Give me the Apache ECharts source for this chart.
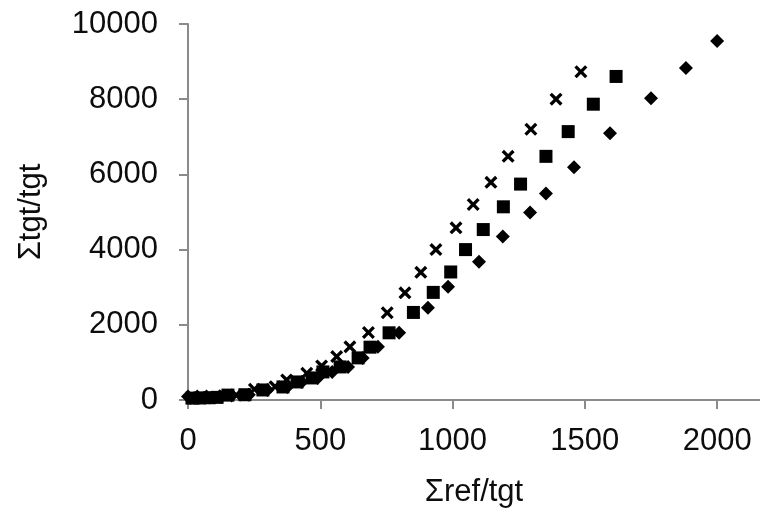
<!DOCTYPE html>
<html>
<head>
<meta charset="utf-8">
<script src="https://cdn.jsdelivr.net/npm/echarts@6/dist/echarts.min.js"></script>
<style>
  html, body { margin: 0; padding: 0; background: #fff; }
  #chart { width: 760px; height: 512px; }
</style>
</head>
<body>
<div id="chart"></div>
<script>
// Cumulative ratios for three runs
const crossX = [25, 65, 110, 182, 251, 329, 373, 449, 505, 562, 612, 682, 753, 820, 880, 937, 1013, 1078, 1145, 1210, 1296, 1391, 1485];
const crossY = [40, 55, 75, 130, 285, 355, 533, 712, 907, 1155, 1413, 1795, 2320, 2850, 3395, 4000, 4580, 5200, 5790, 6480, 7200, 8000, 8730];

const squareX = [15, 45, 80, 110, 151, 215, 283, 359, 412, 469, 510, 575, 643, 688, 760, 852, 927, 993, 1049, 1116, 1192, 1257, 1353, 1437, 1532, 1618];
const squareY = [50, 55, 60, 70, 130, 140, 267, 347, 480, 587, 747, 880, 1120, 1405, 1787, 2329, 2862, 3405, 4000, 4533, 5138, 5742, 6480, 7138, 7867, 8605];

const diamondX = [0, 35, 70, 120, 165, 230, 300, 375, 430, 490, 545, 605, 660, 718, 798, 907, 983, 1100, 1190, 1293, 1353, 1459, 1595, 1750, 1882, 2000];
const diamondY = [90, 90, 95, 100, 120, 140, 267, 347, 480, 587, 747, 880, 1120, 1413, 1787, 2453, 3013, 3680, 4347, 4987, 5493, 6187, 7093, 8027, 8827, 9550];

const xTicks = [0, 500, 1000, 1500, 2000];

const pairs = (xs, ys) => xs.map((x, i) => [x, ys[i]]);

// filled "x" outline so it renders like a stroked cross
const crossPath = 'path://M0,1.8 L1.8,0 L5,3.2 L8.2,0 L10,1.8 L6.8,5 L10,8.2 L8.2,10 L5,6.8 L1.8,10 L0,8.2 L3.2,5 Z';

const FONT = '"Liberation Sans", Arial, sans-serif';
const AXIS_COLOR = '#8a8a8a';
const TEXT_COLOR = '#0d0d0d';
const plain = v => String(v);

const chart = echarts.init(document.getElementById('chart'), null, { renderer: 'canvas' });

chart.setOption({
  animation: false,
  backgroundColor: '#fff',
  grid: { left: 188, right: 0, top: 24, bottom: 112, containLabel: false, outerBoundsMode: 'none' },
  xAxis: {
    type: 'value',
    min: 0,
    max: 2162,
    interval: 500,
    name: 'Σref/tgt',
    nameLocation: 'middle',
    nameGap: 77,
    nameTextStyle: { fontFamily: FONT, fontSize: 31, color: TEXT_COLOR },
    splitLine: { show: false },
    axisLine: { show: true, lineStyle: { color: AXIS_COLOR, width: 2 } },
    axisTick: { show: true, length: 9, lineStyle: { color: AXIS_COLOR, width: 2 }, customValues: xTicks },
    axisLabel: { fontFamily: FONT, fontSize: 31, color: TEXT_COLOR, margin: 26, customValues: xTicks, formatter: plain }
  },
  yAxis: {
    type: 'value',
    min: 0,
    max: 10000,
    interval: 2000,
    name: 'Σtgt/tgt',
    nameLocation: 'middle',
    nameGap: 141,
    nameRotate: 90,
    nameTextStyle: { fontFamily: FONT, fontSize: 31, color: TEXT_COLOR },
    splitLine: { show: false },
    axisLine: { show: true, lineStyle: { color: AXIS_COLOR, width: 2 } },
    axisTick: { show: true, length: 9, lineStyle: { color: AXIS_COLOR, width: 2 } },
    axisLabel: { fontFamily: FONT, fontSize: 31, color: TEXT_COLOR, margin: 30, formatter: plain }
  },
  series: [
    {
      name: 'diamond',
      type: 'scatter',
      clip: false,
      symbol: 'diamond',
      symbolSize: [14, 14],
      itemStyle: { color: '#000', opacity: 1 },
      data: pairs(diamondX, diamondY)
    },
    {
      name: 'square',
      type: 'scatter',
      clip: false,
      symbol: 'rect',
      symbolSize: [13, 13],
      itemStyle: { color: '#000', opacity: 1 },
      data: pairs(squareX, squareY)
    },
    {
      name: 'cross',
      type: 'scatter',
      clip: false,
      symbol: crossPath,
      symbolSize: [13, 13],
      itemStyle: { color: '#000', opacity: 1 },
      data: pairs(crossX, crossY)
    }
  ]
});
</script>
</body>
</html>
